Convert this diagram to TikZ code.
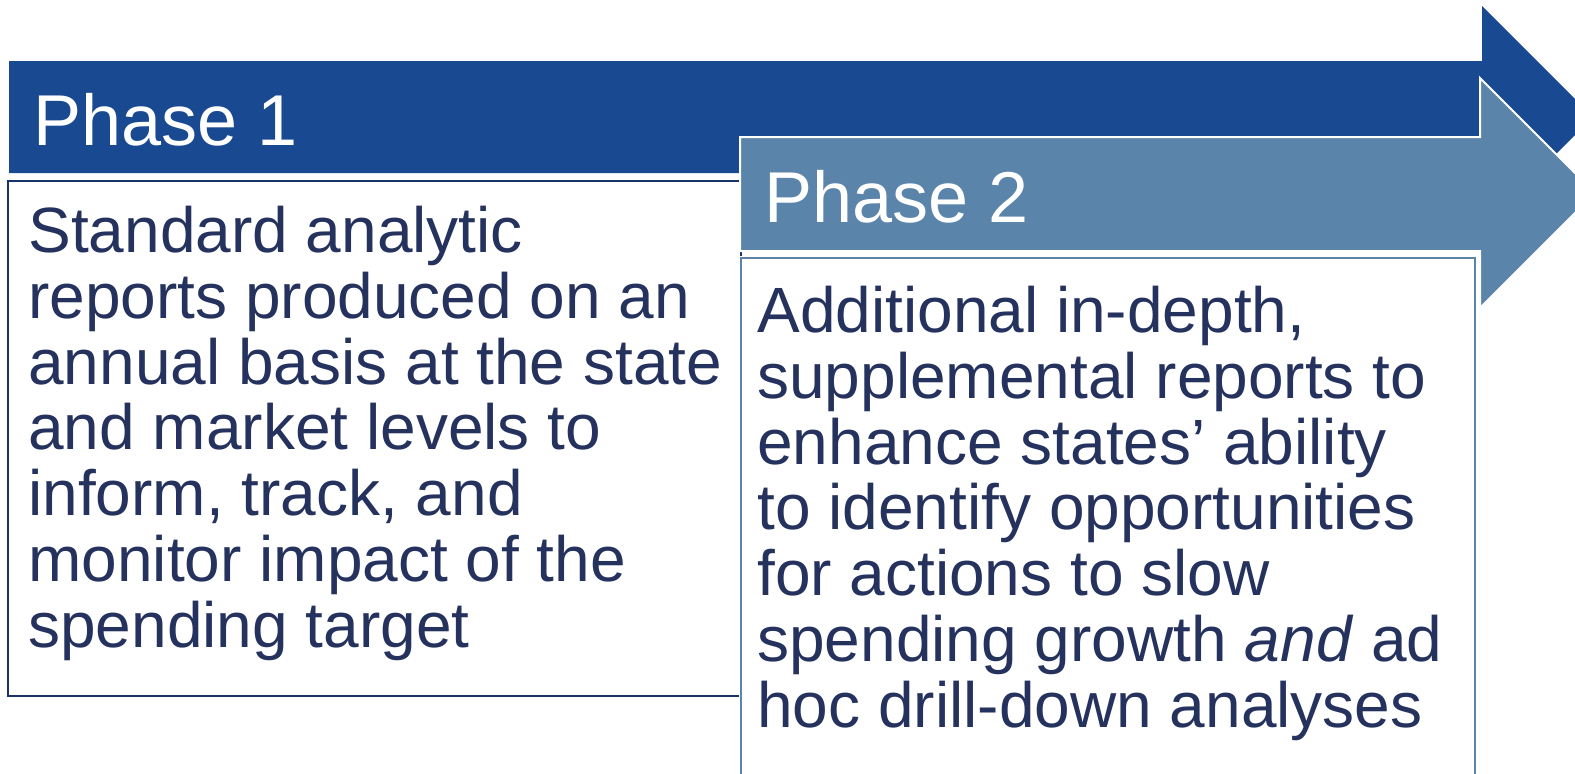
\documentclass[tikz,border=0pt]{standalone}
\usepackage{fontspec}
\setmainfont{Liberation Sans}
\usepackage{xcolor}
\usepackage{tikz}
\usetikzlibrary{positioning}

\definecolor{phaseone}{RGB}{25,73,145}
\definecolor{phasetwo}{RGB}{91,132,171}
\definecolor{navytext}{RGB}{37,50,94}
\definecolor{navyline}{RGB}{22,52,104}

\begin{document}
\begin{tikzpicture}[x=0.5pt, y=-0.5pt,
    phasearrow/.style={draw=white, line width=1pt, line join=miter},
    phaselabel/.style={anchor=base west, inner sep=0pt, text=white,
        font=\fontsize{36}{40}\selectfont},
    bodytext/.style={anchor=base west, inner sep=0pt, align=left,
        text=navytext, font=\fontsize{32}{32.85}\selectfont}]

    % =================================================================
    % 1. KHUNG HÌNH
    % =================================================================
    \useasboundingbox (0,0) rectangle (1575,773);
    \clip (0,0) rectangle (1575,773);

    % =================================================================
    % 2. MŨI TÊN VÀ KHUNG GIAI ĐOẠN 1
    % =================================================================
    \fill[phaseone] (9,61) -- (1482,61) -- (1482,6) -- (1593,117)
        -- (1482,228) -- (1482,173) -- (9,173) -- cycle;
    \draw[navyline, line width=1pt, fill=white] (8,181) rectangle (741,696);

    % =================================================================
    % 3. MŨI TÊN VÀ KHUNG GIAI ĐOẠN 2
    % =================================================================
    \draw[phasearrow, fill=phasetwo] (740,137) -- (1480,137) -- (1480,78)
        -- (1595,193) -- (1480,308) -- (1480,251) -- (740,251) -- cycle;
    \draw[white, line width=2.5pt, fill=white] (741,258) rectangle (1475,820);
    \draw[phasetwo, line width=1pt] (741,258) rectangle (1475,820);

    % =================================================================
    % 4. CHỮ (neo ở dòng cuối)
    % =================================================================
    \node[phaselabel] (phaseone) at (33,145) {Phase 1};
    \node[phaselabel] (phasetwo) at (764,222) {Phase 2};

    \node[bodytext] (phaseonetext) at (28,647) {Standard analytic\\
        reports produced on an\\
        annual basis at the state\\
        and market levels to\\
        inform, track, and\\
        monitor impact of the\\
        spending target};

    \node[bodytext] (phasetwotext) at (757,727) {Additional in-depth,\\
        supplemental reports to\\
        enhance states’ ability\\
        to identify opportunities\\
        for actions to slow\\
        spending growth \textit{and} ad\\
        hoc drill-down analyses};

\end{tikzpicture}
\end{document}
